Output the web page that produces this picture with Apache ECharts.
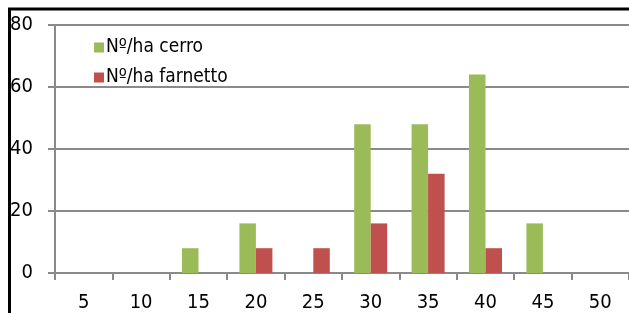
<!DOCTYPE html>
<html>
<head>
<meta charset="utf-8">
<script src="https://cdn.jsdelivr.net/npm/echarts@6/dist/echarts.min.js"></script>
<style>
  html, body { margin: 0; padding: 0; background: #fff; }
  #chart { width: 629px; height: 313px; }
</style>
</head>
<body>
<div id="chart"></div>
<script>
// classi di diametro (cm)
var categories = ['5', '10', '15', '20', '25', '30', '35', '40', '45', '50'];
// N/ha per classe
var cerro = [0, 0, 8, 16, 0, 48, 48, 64, 16, 0];
var farnetto = [0, 0, 0, 8, 8, 16, 32, 8, 0, 0];
var yTicks = [0, 20, 40, 60, 80];

var font = '"DejaVu Sans Condensed", sans-serif';

var chart = echarts.init(document.getElementById('chart'));
chart.setOption({
    animation: false,
    backgroundColor: '#fff',
    grid: { left: 55, top: 25, right: -2, bottom: 39, containLabel: false },
    legend: {
        orient: 'vertical',
        left: 89,
        top: 33,
        itemWidth: 10,
        itemHeight: 10,
        itemGap: 11,
        icon: 'rect',
        textStyle: { fontFamily: font, fontSize: 19, color: '#000', padding: [0, 0, 0, -3] },
        data: ['Nº/ha cerro', 'Nº/ha farnetto']
    },
    xAxis: {
        type: 'category',
        data: categories,
        axisLine: { lineStyle: { color: '#8a8a8a', width: 2 } },
        axisTick: { show: true, length: 7, lineStyle: { color: '#8a8a8a', width: 2 } },
        axisLabel: { color: '#000', fontFamily: font, fontSize: 20, margin: 20 }
    },
    yAxis: {
        type: 'value',
        min: yTicks[0],
        max: yTicks[yTicks.length - 1],
        interval: 20,
        axisLine: { show: true, lineStyle: { color: '#8a8a8a', width: 2 } },
        axisTick: { show: true, length: 7, lineStyle: { color: '#8a8a8a', width: 2 } },
        axisLabel: { color: '#000', fontFamily: font, fontSize: 20, margin: 22 },
        splitLine: { lineStyle: { color: '#8a8a8a', width: 2 } }
    },
    series: [{
        name: 'Nº/ha cerro',
        type: 'bar',
        data: cerro,
        barWidth: 16.5,
        barGap: '0%',
        itemStyle: { color: '#9BBB59' }
    }, {
        name: 'Nº/ha farnetto',
        type: 'bar',
        data: farnetto,
        barWidth: 16.5,
        itemStyle: { color: '#C0504D' }
    }],
    graphic: [{
        type: 'polyline',
        shape: { points: [[9.5, 313], [9.5, 9], [629, 9]] },
        style: { stroke: '#000', lineWidth: 3, fill: null },
        z: 100
    }]
});
</script>
</body>
</html>
